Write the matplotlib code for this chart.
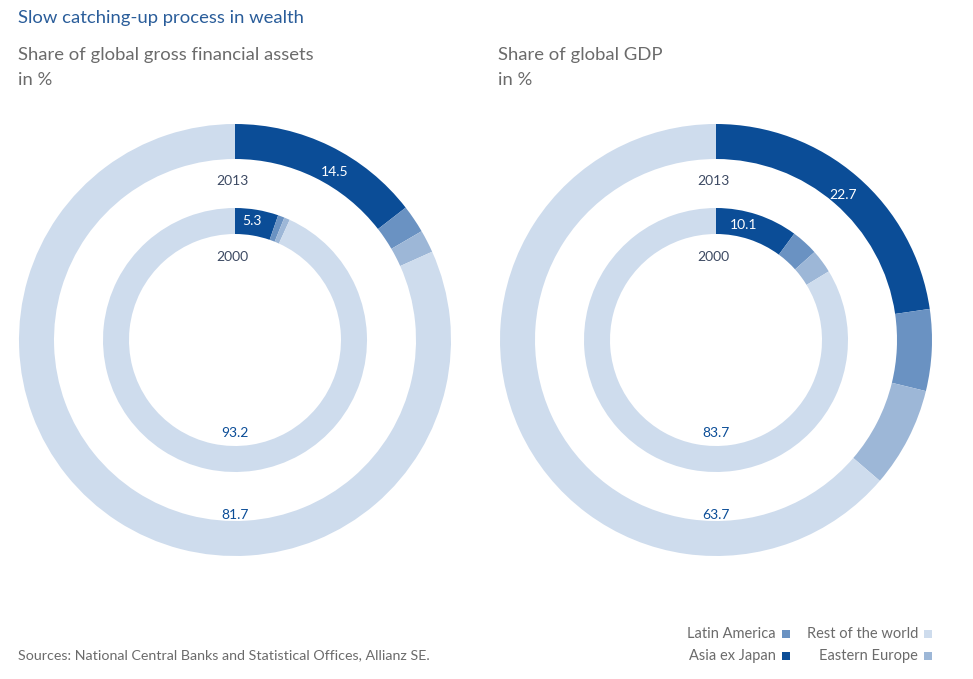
import matplotlib.pyplot as plt
from matplotlib.patches import Rectangle

plt.rcParams['font.family'] = ['Lato', 'DejaVu Sans']

# data (shares in %), order: Asia ex Japan, Latin America, Eastern Europe, Rest of the world
regions = ['Asia ex Japan', 'Latin America', 'Eastern Europe', 'Rest of the world']
gfa_2013 = [14.5, 2.1, 1.7, 81.7]
gfa_2000 = [5.3, 0.8, 0.7, 93.2]
gdp_2013 = [22.7, 6.1, 7.5, 63.7]
gdp_2000 = [10.1, 3.3, 2.9, 83.7]

colors = ['#0b4d97', '#6a92c2', '#9db7d7', '#cedced']
dark = '#0b4d97'
grey = '#6b6b6b'

W, H = 973, 679
fig = plt.figure(figsize=(W / 100, H / 100), dpi=100)
ax = fig.add_axes([0, 0, 1, 1])


def Y(y):
    # pixel row -> data y
    return H - y


def ring(vals, cx, cy, r, w):
    ax.pie(vals, colors=colors, startangle=90, counterclock=False,
           center=(cx, Y(cy)), radius=r,
           wedgeprops=dict(width=w, linewidth=0))


cy = 340
for cx, outer, inner in [(235, gfa_2013, gfa_2000), (716, gdp_2013, gdp_2000)]:
    ring(outer, cx, cy, 216, 35)
    ring(inner, cx, cy, 132, 26)

ax.set_xlim(0, W)
ax.set_ylim(0, H)
ax.set_aspect('equal')
ax.axis('off')

lab = dict(ha='center', va='center', fontsize=10)
# left chart labels
ax.text(232, Y(181), '2013', color='#3d4a63', **lab)
ax.text(232, Y(257), '2000', color='#3d4a63', **lab)
ax.text(335, Y(172), f'{gfa_2013[0]}', color='white', **lab)
ax.text(252, Y(221), f'{gfa_2000[0]}', color='white', **lab)
ax.text(235, Y(433), f'{gfa_2000[3]}', color=dark, **lab)
ax.text(235, Y(515), f'{gfa_2013[3]}', color=dark, **lab)
# right chart labels
ax.text(713, Y(181), '2013', color='#3d4a63', **lab)
ax.text(713, Y(257), '2000', color='#3d4a63', **lab)
ax.text(843, Y(195), f'{gdp_2013[0]}', color='white', **lab)
ax.text(744, Y(225), f'{gdp_2000[0]}', color='white', **lab)
ax.text(716, Y(433), f'{gdp_2000[3]}', color=dark, **lab)
ax.text(716, Y(515), f'{gdp_2013[3]}', color=dark, **lab)

# titles
ax.text(18, Y(18), 'Slow catching-up process in wealth', color='#2a5d9a',
        fontsize=13.3, ha='left', va='center')
ax.text(18, Y(55), 'Share of global gross financial assets', color=grey,
        fontsize=13.3, ha='left', va='center')
ax.text(18, Y(80), 'in %', color=grey, fontsize=13.3, ha='left', va='center')
ax.text(498, Y(55), 'Share of global GDP', color=grey,
        fontsize=13.3, ha='left', va='center')
ax.text(498, Y(80), 'in %', color=grey, fontsize=13.3, ha='left', va='center')

ax.text(18, Y(655), 'Sources: National Central Banks and Statistical Offices, Allianz SE.',
        color=grey, fontsize=10.3, ha='left', va='center')

# legend
leg = [('Latin America', 1, 776, 634), ('Asia ex Japan', 0, 776, 656),
       ('Rest of the world', 3, 918, 634), ('Eastern Europe', 2, 918, 656)]
for name, ci, xr, yy in leg:
    ax.text(xr, Y(yy), name, color=grey, fontsize=10.5, ha='right', va='center')
    ax.add_patch(Rectangle((xr + 6, Y(yy) - 4), 8, 8, color=colors[ci], lw=0))

fig.savefig('out.png', dpi=100)
